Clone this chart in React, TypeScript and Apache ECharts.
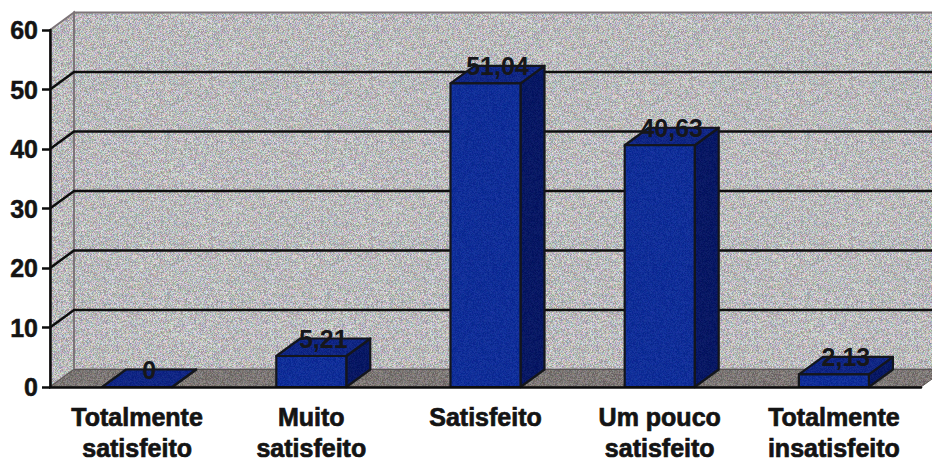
import React, { useEffect, useRef } from "react";
import * as echarts from "echarts";

const categories = [
  "Totalmente\nsatisfeito",
  "Muito\nsatisfeito",
  "Satisfeito",
  "Um pouco\nsatisfeito",
  "Totalmente\ninsatisfeito",
];
const percentages = [0, 5.21, 51.04, 40.63, 2.13];
const axisTicks = [0, 10, 20, 30, 40, 50, 60];

const DEPTH_X = 24;
const DEPTH_Y = 17.5;
const BAR_WIDTH = 70;
const FONT = '"Liberation Sans", Arial, sans-serif';

// Small repeating speckle used as the fill of the walls, the floor and the bars.
function speckle(rgb: number[], spread: number, tint: number, seed: number) {
  const size = 160;
  const canvas = document.createElement("canvas");
  canvas.width = size;
  canvas.height = size;
  const ctx = canvas.getContext("2d")!;
  const img = ctx.createImageData(size, size);
  let s = seed >>> 0;
  const next = () => {
    s = (Math.imul(s, 1664525) + 1013904223) >>> 0;
    return (s >>> 8) / 16777216;
  };
  for (let i = 0; i < img.data.length; i += 4) {
    const g = (next() - 0.5) * spread;
    img.data[i] = rgb[0] + g + (next() - 0.5) * tint;
    img.data[i + 1] = rgb[1] + g + (next() - 0.5) * tint;
    img.data[i + 2] = rgb[2] + g + (next() - 0.5) * tint;
    img.data[i + 3] = 255;
  }
  ctx.putImageData(img, 0, 0);
  return canvas;
}

export default function App() {
  const ref = useRef<HTMLDivElement>(null);

  useEffect(() => {
    const chart = echarts.init(ref.current!, undefined, { renderer: "svg" });
    const pattern = (rgb: number[], spread: number, tint: number, seed: number) => ({
      image: speckle(rgb, spread, tint, seed),
      repeat: "repeat",
    });
    const wallFill = pattern([186, 186, 188], 62, 44, 7);
    const floorFill = pattern([124, 118, 116], 44, 16, 23);
    const frontFill = pattern([16, 46, 152], 18, 8, 41);
    const topFill = pattern([16, 38, 132], 16, 8, 59);
    const sideFill = pattern([8, 24, 100], 14, 6, 73);

    chart.setOption({
      animation: false,
      grid: { left: 50, right: 11, top: 30, bottom: 74, outerBoundsMode: "none" },
      xAxis: {
        type: "category",
        data: categories,
        z: 6,
        axisLine: { lineStyle: { color: "#0c0c0c", width: 2.5 } },
        axisTick: { length: 7, lineStyle: { color: "#0c0c0c", width: 2.5 } },
        axisLabel: {
          color: "#141414",
          fontFamily: FONT,
          fontWeight: "bold",
          fontSize: 25,
          lineHeight: 31,
          margin: 14,
          interval: 0,
          textBorderColor: "#141414",
          textBorderWidth: 0.7,
        },
      },
      yAxis: {
        type: "value",
        min: 0,
        max: 60,
        interval: 10,
        z: 6,
        splitLine: { show: false },
        axisLine: { show: true, lineStyle: { color: "#0c0c0c", width: 2.5 } },
        axisTick: { show: true, length: 8, lineStyle: { color: "#0c0c0c", width: 2.5 } },
        axisLabel: {
          color: "#141414",
          fontFamily: FONT,
          fontWeight: "bold",
          fontSize: 25,
          margin: 12,
          textBorderColor: "#141414",
          textBorderWidth: 0.5,
        },
      },
      series: [
        {
          // Back wall, side wall and floor, with one gridline per axis tick.
          type: "custom",
          z: 1,
          silent: true,
          clip: false,
          data: axisTicks.map((t) => [0, t]),
          renderItem: (params: any, api: any) => {
            const tick = api.value(1);
            const sys = params.coordSys;
            const left = sys.x;
            const right = sys.x + sys.width + DEPTH_X;
            const y = api.coord([0, tick])[1];
            const children: any[] = [];
            const edge = { stroke: "#7d7478", lineWidth: 2 };
            if (params.dataIndex === 0) {
              const base = sys.y + sys.height;
              const top = sys.y;
              children.push(
                {
                  type: "polygon",
                  shape: {
                    points: [
                      [left + DEPTH_X, top - DEPTH_Y],
                      [right, top - DEPTH_Y],
                      [right, base - DEPTH_Y],
                      [left + DEPTH_X, base - DEPTH_Y],
                    ],
                  },
                  style: { fill: wallFill, ...edge },
                },
                {
                  type: "polygon",
                  shape: {
                    points: [
                      [left, top],
                      [left + DEPTH_X, top - DEPTH_Y],
                      [left + DEPTH_X, base - DEPTH_Y],
                      [left, base],
                    ],
                  },
                  style: { fill: wallFill, ...edge },
                },
                {
                  type: "polygon",
                  shape: {
                    points: [
                      [left, base],
                      [left + DEPTH_X, base - DEPTH_Y],
                      [right, base - DEPTH_Y],
                      [right - DEPTH_X, base],
                    ],
                  },
                  style: { fill: floorFill, stroke: "#5a5654", lineWidth: 1 },
                },
              );
            }
            if (tick > 0 && tick < 60) {
              children.push({
                type: "polyline",
                shape: {
                  points: [
                    [left, y],
                    [left + DEPTH_X, y - DEPTH_Y],
                    [right, y - DEPTH_Y],
                  ],
                },
                style: { fill: "none", stroke: "#0e0e0e", lineWidth: 2.5 },
              });
            }
            return { type: "group", children };
          },
        },
        {
          // Extruded bars with their value printed over the top face.
          type: "custom",
          z: 3,
          clip: false,
          data: percentages.map((v, i) => [i, v]),
          renderItem: (_params: any, api: any) => {
            const value = api.value(1);
            const [cx, top] = api.coord([api.value(0), value]);
            const [, base] = api.coord([api.value(0), 0]);
            const l = cx - BAR_WIDTH / 2;
            const r = cx + BAR_WIDTH / 2;
            const outline = { stroke: "#14161c", lineWidth: 2.2, lineJoin: "round" };
            return {
              type: "group",
              children: [
                {
                  type: "polygon",
                  shape: {
                    points: [
                      [r, top],
                      [r + DEPTH_X, top - DEPTH_Y],
                      [r + DEPTH_X, base - DEPTH_Y],
                      [r, base],
                    ],
                  },
                  style: { fill: sideFill, ...outline },
                },
                {
                  type: "polygon",
                  shape: {
                    points: [
                      [l, top],
                      [l + DEPTH_X, top - DEPTH_Y],
                      [r + DEPTH_X, top - DEPTH_Y],
                      [r, top],
                    ],
                  },
                  style: { fill: topFill, ...outline },
                },
                {
                  type: "rect",
                  shape: { x: l, y: top, width: BAR_WIDTH, height: base - top },
                  style: { fill: frontFill, ...outline },
                },
                {
                  type: "text",
                  style: {
                    text: String(value).replace(".", ","),
                    x: cx + DEPTH_X / 2,
                    y: top - DEPTH_Y,
                    align: "center",
                    verticalAlign: "middle",
                    fill: "#17171a",
                    font: `bold 25px ${FONT}`,
                  },
                },
              ],
            };
          },
        },
      ],
    });

    return () => chart.dispose();
  }, []);

  return (
    <div
      ref={ref}
      style={{ position: "absolute", left: 0, top: 0, width: 932, height: 461 }}
    />
  );
}
